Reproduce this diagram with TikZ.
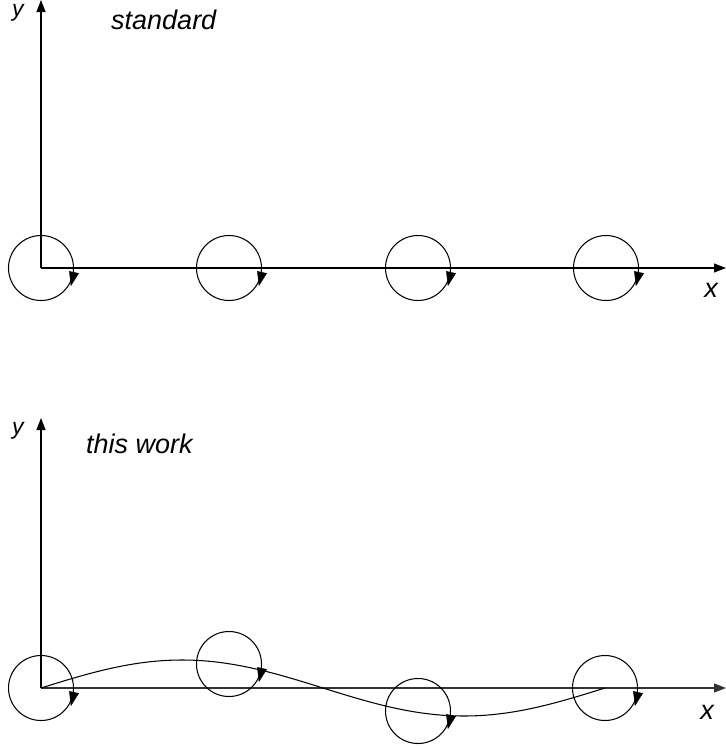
\documentclass[tikz,border=0pt]{standalone}
\usepackage{fontspec}
\setmainfont{Liberation Sans}
\usetikzlibrary{arrows.meta}
\begin{document}
\begin{tikzpicture}[x=1pt,y=-1pt,
  axis/.style={line width=1.1pt,-{Triangle[length=12pt,width=9pt]}},
  wheel/.style={circle,draw,line width=1.05pt,minimum size=65pt,inner sep=0pt},
  spinhead/.style={fill=black,draw=black,line width=0.4pt,line join=miter},
  lbl/.style={inner sep=0pt,font=\fontsize{27}{30}\selectfont\itshape},
  axlbl/.style={inner sep=0pt,font=\fontsize{23}{26}\selectfont\itshape}]
\useasboundingbox (0,0) rectangle (726,748);
% ---------- top panel ----------
\coordinate (o1) at (41,268);
\coordinate (ytop1) at (41,0);
\coordinate (xend1) at (726,268);
\draw[axis] (o1) -- (ytop1);
\draw[axis] (o1) -- (xend1);
\node[axlbl,anchor=base] (ylab1) at (18,16) {y};
\node[lbl,anchor=center] (xlab1) at (711,290) {x};
\node[lbl,anchor=base west] (t1) at (111,29) {standard};
\foreach \i/\xx in {1/41,2/229,3/418,4/606}{
  \node[wheel] (a\i) at (\xx,268) {};
  \filldraw[spinhead] ([shift={(28.4,3.4)}]a\i.center) -- ([shift={(37.6,5.4)}]a\i.center)
     -- ([shift={(30,17.5)}]a\i.center) -- cycle;
}
% ---------- bottom panel ----------
\coordinate (o2) at (41,688);
\coordinate (ytop2) at (41,418);
\coordinate (xend2) at (726,688);
\draw[axis] (o2) -- (ytop2);
\draw[axis,draw=black!80,fill=black!80] (o2) -- (xend2);
\node[axlbl,anchor=base] (ylab2) at (18,434) {y};
\node[lbl,anchor=center] (xlab2) at (707,712) {x};
\node[lbl,anchor=base west] (t2) at (86,453) {this work};
\draw[line width=1.05pt] plot[domain=41:605,samples=120,smooth] (\x,{688-28*sin((\x-41)*0.638298)});
\foreach \i/\xx/\yy in {1/41/688,2/229/664,3/418/711,4/605/688}{
  \node[wheel] (b\i) at (\xx,\yy) {};
  \filldraw[spinhead] ([shift={(28.4,3.4)}]b\i.center) -- ([shift={(37.6,5.4)}]b\i.center)
     -- ([shift={(30,17.5)}]b\i.center) -- cycle;
}
\end{tikzpicture}
\end{document}
